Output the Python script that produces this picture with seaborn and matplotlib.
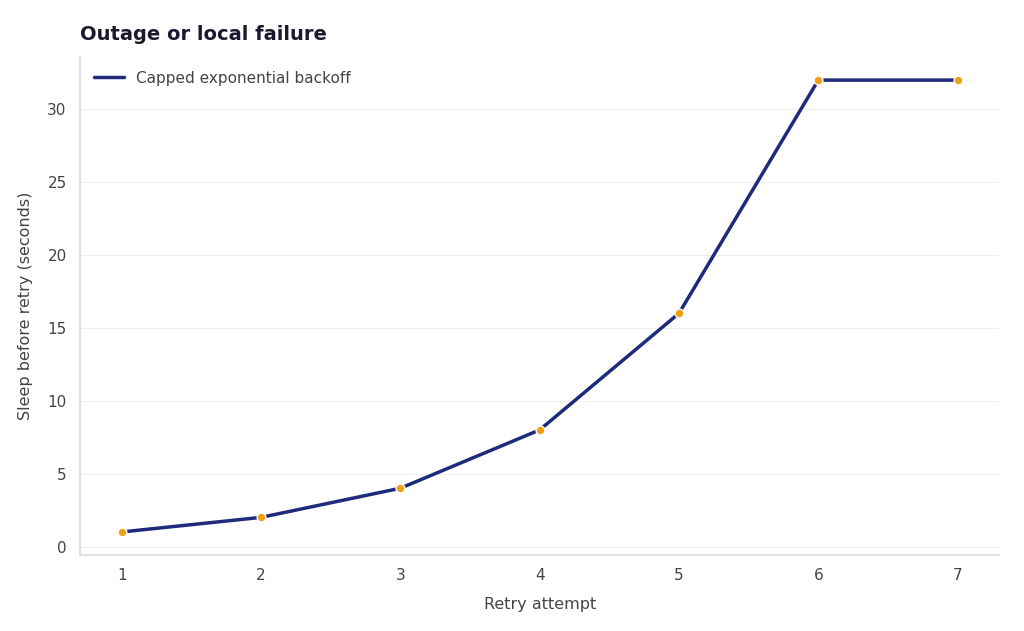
import matplotlib
matplotlib.use("Agg")
import matplotlib.pyplot as plt
import seaborn as sns
import pandas as pd

attempts = [1, 2, 3, 4, 5, 6, 7]
sleep_seconds = [1, 2, 4, 8, 16, 32, 32]
series_name = "Capped exponential backoff"

sns.set_theme(style="whitegrid")
plt.rcParams['font.family'] = ['DejaVu Sans']

df = pd.DataFrame({"attempt": attempts, "sleep": sleep_seconds})
fig = plt.figure(figsize=(10.24, 6.31), dpi=100)
ax = fig.add_axes([0.078, 0.12, 0.898, 0.79])
sns.lineplot(data=df, x="attempt", y="sleep", ax=ax, color="#1f2a7a", linewidth=2.5,
             label=series_name)
ax.scatter(attempts, sleep_seconds, color="#f0a010", edgecolor="white", s=40, zorder=5, linewidth=1)

ax.set_xlim(0.7, 7.3)
ax.set_ylim(-0.6, 33.6)
ax.set_xticks(attempts)
ax.set_yticks([0, 5, 10, 15, 20, 25, 30])
ax.grid(axis="x", visible=False)
ax.grid(axis="y", color="#eeeeee", linewidth=0.8)
for s in ["top", "right"]:
    ax.spines[s].set_visible(False)
for s in ["left", "bottom"]:
    ax.spines[s].set_color("#dddddd")
ax.tick_params(colors="#444444", labelsize=11)
ax.set_xlabel("Retry attempt", fontsize=11.5, color="#444444", labelpad=10)
ax.set_ylabel("Sleep before retry (seconds)", fontsize=11.5, color="#444444", labelpad=10)
ax.set_title("Outage or local failure", loc="left", fontsize=14, fontweight="bold", color="#1a1a2e", pad=12)
leg = ax.legend(loc="upper left", frameon=False, fontsize=11)
for t in leg.get_texts():
    t.set_color("#444444")
fig.savefig("out.png", dpi=100, facecolor="white")
